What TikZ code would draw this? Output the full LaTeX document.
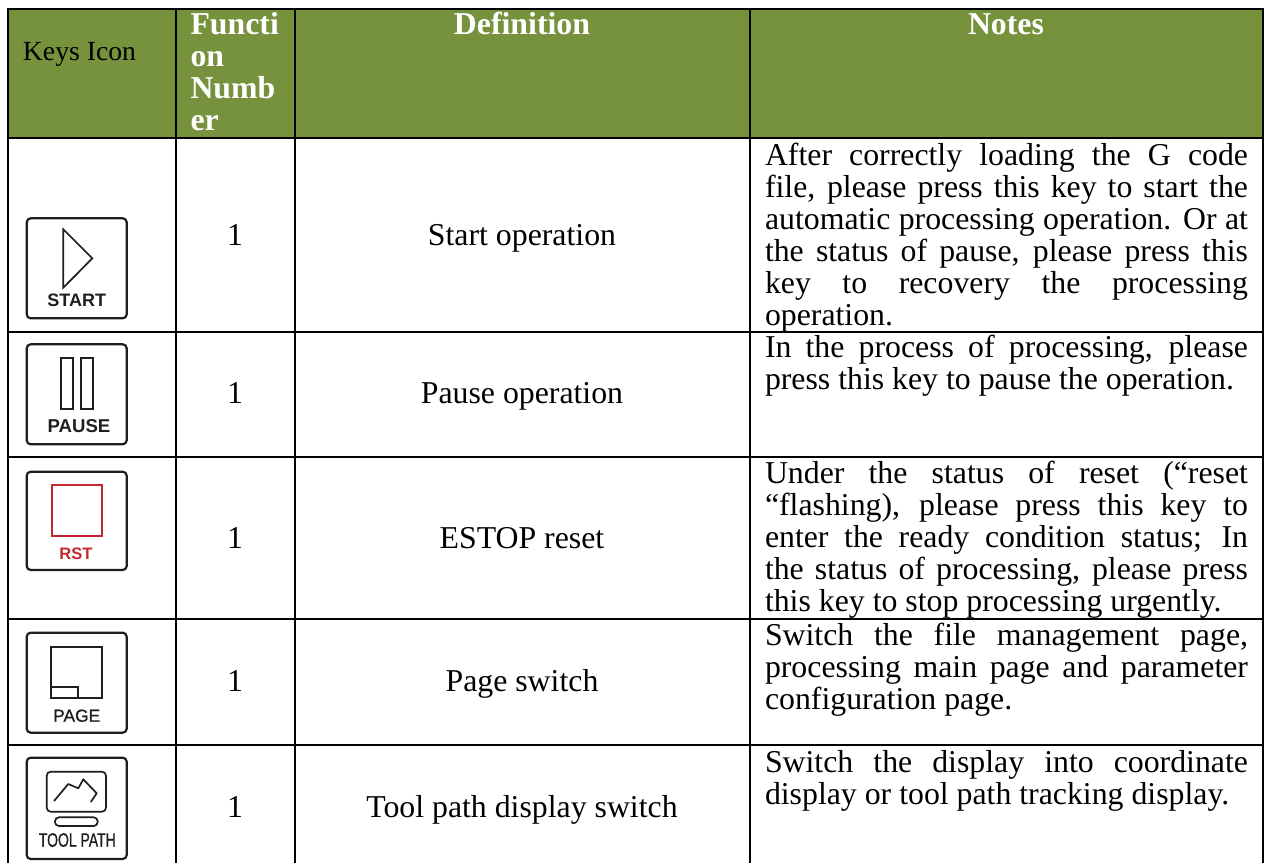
\documentclass[tikz,border=0pt]{standalone}
\usepackage{fontspec}
\usepackage{graphicx}
\setmainfont{Liberation Serif}
\newfontfamily\iconfont{Liberation Sans}
\newfontfamily\iconsemi[FakeBold=0.8]{Liberation Sans}
\definecolor{headgreen}{HTML}{76923C}
\definecolor{iconink}{HTML}{1E1E1E}
\definecolor{rstred}{HTML}{C4282E}
\newcommand{\notesfont}{\fontsize{31.8}{32}\selectfont}
\newcommand{\fl}[1]{\hbox to 483pt{#1}}
\newcommand{\nl}[1]{\hbox{#1}}
\newcommand{\notecell}[1]{\vtop{\baselineskip=32pt\lineskip=0pt\lineskiplimit=-100pt\hsize=483pt #1}}
\tikzset{
  x=1pt,y=-1pt,
  grid/.style={line width=1.8pt,black},
  txt/.style={inner sep=0pt,outer sep=0pt,font=\notesfont,text=black},
  headtxt/.style={txt,text=white,font=\notesfont\bfseries},
  defcell/.style={txt,anchor=base},
  notecellstyle/.style={txt,anchor=base west},
  keyframe/.style={draw=iconink,line width=2.2pt,rounded corners=4pt,fill=white},
  glyph/.style={draw=iconink,line width=1.7pt},
  iconlabel/.style={inner sep=0pt,text=iconink,anchor=center}
}
\begin{document}
\begin{tikzpicture}
\useasboundingbox (0,0) rectangle (1264,863);
\fill[white] (0,0) rectangle (1264,863);
\fill[headgreen] (7.7,8.7) rectangle (1262.7,137.6);
% grid
\foreach \yy in {8.7,137.6,332,457.3,619,745}
  \draw[grid] (6.8,\yy) -- (1263.6,\yy);
\foreach \xx in {7.7,175.7,295,750,1262.7}
  \draw[grid] (\xx,8) -- (\xx,863);
% header
\node[txt,anchor=base west,font=\fontsize{27.7}{32}\selectfont] (hkeys) at (23,60.7) {Keys Icon};
\node[headtxt,anchor=base west] (hfa) at (190.5,34.5) {Functi};
\node[headtxt,anchor=base west] (hfb) at (190.5,66.5) {on};
\node[headtxt,anchor=base west] (hfc) at (190.5,98.8) {Numb};
\node[headtxt,anchor=base west] (hfd) at (190.5,130.7) {er};
\node[headtxt,anchor=base] (hdef) at (522,34.5) {Definition};
\node[headtxt,anchor=base] (hnotes) at (1006,34.5) {Notes};
% numbers
\node[defcell] (n1) at (235,245) {1};
\node[defcell] (n2) at (235,403.3) {1};
\node[defcell] (n3) at (235,548.3) {1};
\node[defcell] (n4) at (235,691.7) {1};
\node[defcell] (n5) at (235,817.3) {1};
% definitions
\node[defcell] (d1) at (522,245) {Start operation};
\node[defcell] (d2) at (522,403.3) {Pause operation};
\node[defcell] (d3) at (522,548.3) {ESTOP reset};
\node[defcell] (d4) at (522,691.7) {Page switch};
\node[defcell] (d5) at (522,817.3) {Tool path display switch};
% notes
\node[notecellstyle] (t1) at (765,165) {\notecell{%
  \fl{After correctly loading the G code}
  \fl{file, please press this key to start the}
  \fl{automatic processing operation. Or at}
  \fl{the status of pause, please press this}
  \fl{key to recovery the processing}
  \nl{operation.}}};
\node[notecellstyle] (t2) at (765,357.3) {\notecell{%
  \fl{In the process of processing, please}
  \nl{press this key to pause the operation.}}};
\node[notecellstyle] (t3) at (765,483) {\notecell{%
  \fl{Under the status of reset (“reset}
  \fl{“flashing), please press this key to}
  \fl{enter the ready condition status; In}
  \fl{the status of processing, please press}
  \nl{this key to stop processing urgently.}}};
\node[notecellstyle] (t4) at (765,645.7) {\notecell{%
  \fl{Switch the file management page,}
  \fl{processing main page and parameter}
  \nl{configuration page.}}};
\node[notecellstyle] (t5) at (765,772) {\notecell{%
  \fl{Switch the display into coordinate}
  \nl{display or tool path tracking display.}}};
% START key
\draw[keyframe] (26.7,218.3) rectangle (126.7,318.3);
\draw[glyph,line join=miter] (63.3,229.3) -- (92.3,258.3) -- (63.3,287.7) -- cycle;
\node[iconlabel] (kstart) at (76.7,300) {\iconfont\bfseries\fontsize{18}{18}\selectfont START};
% PAUSE key
\draw[keyframe] (26.7,344.3) rectangle (126.7,444.3);
\draw[glyph] (61,358.3) rectangle (73.3,409.3);
\draw[glyph] (81,358.3) rectangle (92.7,409.3);
\node[iconlabel] (kpause) at (79,426) {\iconfont\bfseries\fontsize{18.6}{18.6}\selectfont PAUSE};
% RST key
\draw[keyframe] (26.7,471.7) rectangle (126.7,570);
\draw[glyph,draw=rstred,line width=1.9pt] (51.7,485) rectangle (102.3,536);
\node[iconlabel,text=rstred] (krst) at (76,553.3) {\iconfont\bfseries\fontsize{16.6}{16.6}\selectfont RST};
% PAGE key
\draw[keyframe] (26.7,632.7) rectangle (126.7,732.7);
\draw[glyph] (51,646.7) rectangle (101.7,697.7);
\draw[glyph] (51,686.7) -- (78.3,686.7) -- (78.3,697.7);
\node[iconlabel] (kpage) at (76.7,715.7) {\iconsemi\fontsize{17.4}{17.4}\selectfont PAGE};
% TOOL PATH key
\draw[keyframe] (26.7,757.7) rectangle (126.7,859);
\draw[glyph,rounded corners=4pt] (46.7,771.7) rectangle (106,811.7);
\draw[glyph,line join=round,line cap=round] (54.3,800.7) -- (68.3,784) -- (78.3,788.3) -- (83.3,779.3) -- (96.7,793.3) -- (91,801.7);
\draw[glyph,rounded corners=4pt] (55,817.3) rectangle (97.7,826);
\node[iconlabel] (ktool) at (77.3,840) {\iconsemi\scalebox{0.72}[1]{\fontsize{19.4}{19.4}\selectfont TOOL PATH}};
\end{tikzpicture}
\end{document}
